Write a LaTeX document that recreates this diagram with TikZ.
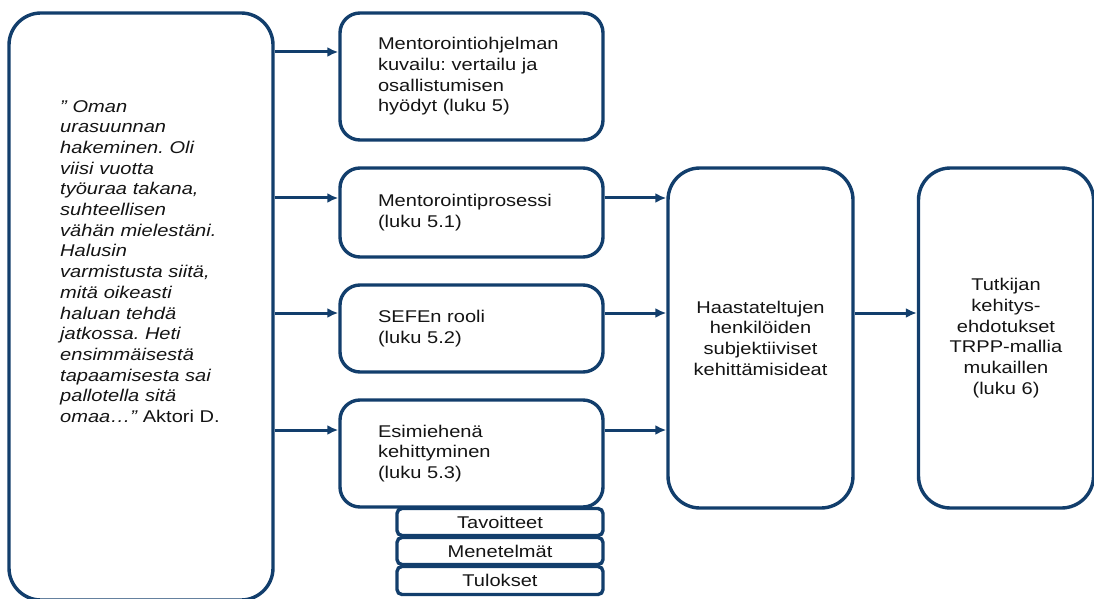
\documentclass[tikz,border=0pt]{standalone}
\usepackage{fontspec}
\setmainfont[FakeStretch=1.18]{Liberation Sans}
\usetikzlibrary{arrows.meta}
\definecolor{navy}{HTML}{123E6C}
\definecolor{ink}{HTML}{141414}
\frenchspacing
\begin{document}
\begin{tikzpicture}[x=1pt,y=1pt,
  txt/.style={text=ink, font=\fontsize{17}{20.7}\selectfont},
  box/.style={draw=navy, line width=3.4pt, rounded corners=20pt, txt},
  bigbox/.style={box, rounded corners=32pt},
  lbox/.style={box, text width=187pt, align=left, inner xsep=38pt, minimum width=263pt},
  subbox/.style={box, rounded corners=5pt, minimum width=206pt, align=center},
  arr/.style={draw=navy, line width=3pt, -{Latex[length=11pt,width=10pt]}}]
\useasboundingbox (0,0) rectangle (1094,598);
\clip (0,0) rectangle (1094,598);

% left quote box
\node[bigbox, minimum width=264pt, minimum height=587pt] (L) at (141,291.5) {};
\node[txt, anchor=north west, inner sep=0pt, text width=205pt, align=left] (Q) at (60,498)
 {\itshape ” Oman\\ urasuunnan\\ hakeminen. Oli\\ viisi vuotta\\ työuraa takana,\\ suhteellisen\\ vähän mielestäni.\\ Halusin\\ varmistusta siitä,\\ mitä oikeasti\\ haluan tehdä\\ jatkossa. Heti\\ ensimmäisestä\\ tapaamisesta sai\\ pallotella sitä\\ omaa…”\upshape{} Aktori D.};

% chapter boxes
\node[lbox, minimum height=127pt] (B1) at (471.5,521.5)
 {Mentorointiohjelman\\ kuvailu: vertailu ja\\ osallistumisen\\ hyödyt (luku 5)};
\node[lbox, minimum height=89pt] (B2) at (471.5,385.5)
 {Mentorointiprosessi\\ (luku 5.1)};
\node[lbox, minimum height=87pt] (B3) at (471.5,269.5)
 {SEFEn rooli\\ (luku 5.2)};
\node[lbox, minimum height=107pt] (B4) at (471.5,144.5)
 {Esimiehenä\\ kehittyminen\\ (luku 5.3)};

% sub boxes
\node[subbox, minimum height=27pt] (S1) at (500,76) {Tavoitteet};
\node[subbox, minimum height=27pt] (S2) at (500,47) {Menetelmät};
\node[subbox, minimum height=28pt] (S3) at (500,17.5) {Tulokset};

% middle and right boxes
\node[bigbox, minimum width=185pt, minimum height=340pt, align=center] (M) at (760.5,260)
 {Haastateltujen\\ henkilöiden\\ subjektiiviset\\ kehittämisideat};
\node[bigbox, minimum width=175pt, minimum height=340pt, align=center] (R) at (1006,260)
 {Tutkijan\\ kehitys-\\ ehdotukset\\ TRPP-mallia\\ mukaillen\\ (luku 6)};

% arrows from quote box
\draw[arr] ([yshift=24.5pt]B1.west -| L.east) -- ([yshift=24.5pt]B1.west);
\draw[arr] ([yshift=14.5pt]B2.west -| L.east) -- ([yshift=14.5pt]B2.west);
\draw[arr] ([yshift=15.5pt]B3.west -| L.east) -- ([yshift=15.5pt]B3.west);
\draw[arr] ([yshift=23.5pt]B4.west -| L.east) -- ([yshift=23.5pt]B4.west);

% arrows to middle box
\draw[arr] ([yshift=14.5pt]B2.east) -- ([yshift=14.5pt]B2.east -| M.west);
\draw[arr] ([yshift=15.5pt]B3.east) -- ([yshift=15.5pt]B3.east -| M.west);
\draw[arr] ([yshift=23.5pt]B4.east) -- ([yshift=23.5pt]B4.east -| M.west);

% middle to right
\draw[arr] ([yshift=25pt]M.east) -- ([yshift=25pt]M.east -| R.west);
\end{tikzpicture}
\end{document}
